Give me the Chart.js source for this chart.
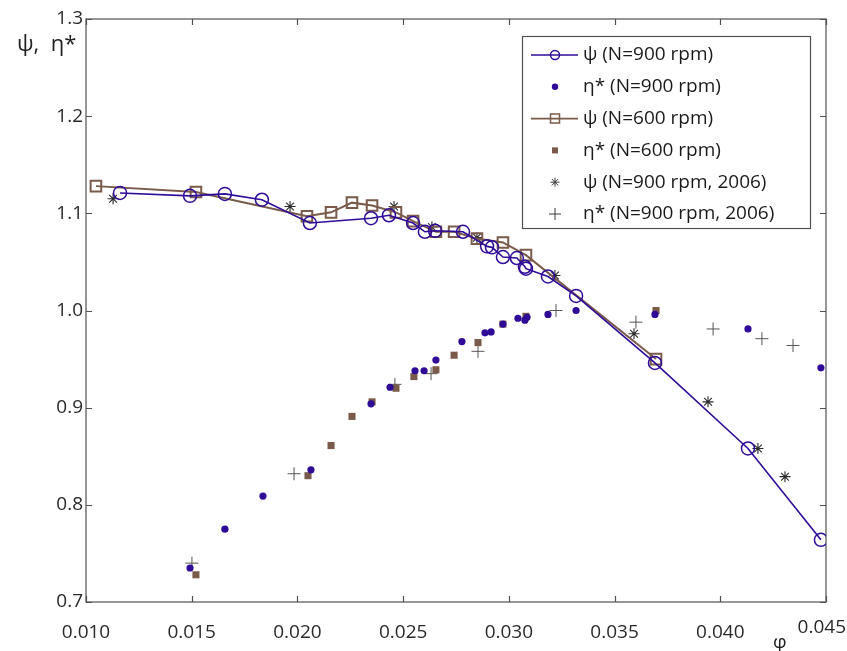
<!DOCTYPE html>
<html>
<head>
<meta charset="utf-8">
<script src="https://cdn.jsdelivr.net/npm/chart.js@4"></script>
<style>
  body { margin: 0; background: #fff; }
  #wrap { width: 847px; height: 651px; }
</style>
</head>
<body>
<div id="wrap"><canvas id="fanChart" width="847" height="651"></canvas></div>
<script>
// flow coefficient (phi) and head / efficiency values per series
const phi900 = [0.01161, 0.01492, 0.01657, 0.01832, 0.02059, 0.02348, 0.02433, 0.02547, 0.02603, 0.02651,
                0.02783, 0.02897, 0.02920, 0.02972, 0.03038, 0.03076, 0.03081, 0.03185, 0.03318, 0.03691,
                0.04131, 0.04476];
const psi900 = [1.121, 1.118, 1.120, 1.114, 1.090, 1.095, 1.098, 1.090, 1.081, 1.082,
                1.081, 1.066, 1.065, 1.055, 1.054, 1.045, 1.043, 1.035, 1.015, 0.946,
                0.858, 0.764];

const phiEta900 = [0.01492, 0.01657, 0.01837, 0.02064, 0.02348, 0.02438, 0.02556, 0.02599, 0.02655, 0.02778,
                   0.02887, 0.02916, 0.02972, 0.03043, 0.03076, 0.03086, 0.03185, 0.03318, 0.03691, 0.04131,
                   0.04476];
const eta900 = [0.735, 0.775, 0.809, 0.836, 0.904, 0.921, 0.938, 0.938, 0.949, 0.968,
                0.977, 0.978, 0.986, 0.992, 0.990, 0.993, 0.996, 1.000, 0.996, 0.981,
                0.941];

const phi600 = [0.01047, 0.01520, 0.02045, 0.02159, 0.02258, 0.02353, 0.02466, 0.02547, 0.02655, 0.02741,
                0.02849, 0.02972, 0.03081, 0.03696];
const psi600 = [1.128, 1.122, 1.097, 1.101, 1.111, 1.108, 1.101, 1.092, 1.081, 1.081,
                1.074, 1.070, 1.057, 0.950];

const phiEta600 = [0.01520, 0.02050, 0.02159, 0.02258, 0.02353, 0.02466, 0.02551, 0.02655, 0.02741, 0.02854,
                   0.02972, 0.03081, 0.03696];
const eta600 = [0.728, 0.830, 0.861, 0.891, 0.906, 0.920, 0.932, 0.939, 0.954, 0.967,
                0.986, 0.994, 1.000];

const phiPsi2006 = [0.01128, 0.01965, 0.02457, 0.02636, 0.02849, 0.03218, 0.03592, 0.03942, 0.04178, 0.04306];
const psi2006 = [1.115, 1.107, 1.107, 1.086, 1.075, 1.036, 0.976, 0.906, 0.858, 0.829];

const phiEta2006 = [0.01501, 0.01984, 0.02461, 0.02632, 0.02854, 0.03223, 0.03601, 0.03966, 0.04197, 0.04344];
const eta2006 = [0.740, 0.832, 0.924, 0.935, 0.958, 1.000, 0.988, 0.981, 0.971, 0.964];

const xTicks = { min: 0.010, max: 0.045, step: 0.005 };
const yTicks = { min: 0.7, max: 1.3, step: 0.1 };

const legendLabels = ['ψ (N=900 rpm)', 'η* (N=900 rpm)', 'ψ (N=600 rpm)', 'η* (N=600 rpm)',
                      'ψ (N=900 rpm, 2006)', 'η* (N=900 rpm, 2006)'];

const BLUE = '#2f0c98';
const BROWN = '#7a5a4b';
const GREY = '#3a3a3a';
const FONT = '"Open Sans", "Noto Sans", sans-serif';

const pts = (xs, ys) => xs.map((x, i) => ({ x: x, y: ys[i] }));

// MATLAB-like box with inward tick marks
const boxFrame = {
  id: 'boxFrame',
  beforeDatasetsDraw(chart) {
    const { ctx, chartArea: a, scales: { x, y } } = chart;
    ctx.save();
    ctx.strokeStyle = '#505050';
    ctx.lineWidth = 1.2;
    ctx.strokeRect(a.left, a.top, a.right - a.left, a.bottom - a.top);
    ctx.beginPath();
    x.ticks.forEach(t => {
      const px = Math.round(x.getPixelForValue(t.value)) + 0.5;
      ctx.moveTo(px, a.bottom); ctx.lineTo(px, a.bottom - 6);
      ctx.moveTo(px, a.top); ctx.lineTo(px, a.top + 6);
    });
    y.ticks.forEach(t => {
      const py = Math.round(y.getPixelForValue(t.value)) + 0.5;
      ctx.moveTo(a.left, py); ctx.lineTo(a.left + 6, py);
      ctx.moveTo(a.right, py); ctx.lineTo(a.right - 6, py);
    });
    ctx.stroke();
    ctx.restore();
  },
  afterDraw(chart) {
    const { ctx, chartArea: a, scales: { x } } = chart;
    ctx.save();
    ctx.fillStyle = '#222';
    ctx.textBaseline = 'middle';
    ctx.font = '19px ' + FONT;
    // last x tick label sits up and to the left so it stays on the canvas
    const last = x.ticks[x.ticks.length - 1];
    ctx.fillStyle = '#2a2a2a';
    ctx.textAlign = 'right';
    ctx.fillText(last.value.toFixed(3), x.getPixelForValue(last.value) + 20, 628);
    ctx.fillStyle = '#222';
    ctx.textAlign = 'left';
    ctx.fillText('φ', a.right - 53, 643);
    ctx.font = '22px ' + FONT;
    ctx.fillText('ψ,  η*', 17, 45);
    ctx.restore();
  }
};

function drawMark(ctx, kind, x, y) {
  ctx.beginPath();
  if (kind === 'circle') {
    ctx.strokeStyle = BLUE; ctx.lineWidth = 1.5;
    ctx.arc(x, y, 4.5, 0, Math.PI * 2); ctx.stroke();
  } else if (kind === 'dot') {
    ctx.fillStyle = BLUE;
    ctx.arc(x, y, 3.2, 0, Math.PI * 2); ctx.fill();
  } else if (kind === 'square') {
    ctx.strokeStyle = BROWN; ctx.lineWidth = 1.5;
    ctx.rect(x - 4.5, y - 4.5, 9, 9); ctx.stroke();
  } else if (kind === 'smallSquare') {
    ctx.fillStyle = BROWN;
    ctx.fillRect(x - 3, y - 3, 6, 6);
  } else if (kind === 'star') {
    ctx.strokeStyle = GREY; ctx.lineWidth = 1;
    const r = 4.5, d = r * Math.SQRT1_2;
    ctx.moveTo(x - r, y); ctx.lineTo(x + r, y);
    ctx.moveTo(x, y - r); ctx.lineTo(x, y + r);
    ctx.moveTo(x - d, y - d); ctx.lineTo(x + d, y + d);
    ctx.moveTo(x - d, y + d); ctx.lineTo(x + d, y - d);
    ctx.stroke();
  } else if (kind === 'plus') {
    ctx.strokeStyle = GREY; ctx.lineWidth = 1;
    ctx.moveTo(x - 6, y); ctx.lineTo(x + 6, y);
    ctx.moveTo(x, y - 6); ctx.lineTo(x, y + 6);
    ctx.stroke();
  }
}

// legend box in the upper right corner of the plot
const boxLegend = {
  id: 'boxLegend',
  afterDraw(chart) {
    const { ctx } = chart;
    const left = 522, top = 36, w = 288, h = 192;
    const rows = [
      { line: BLUE, mark: 'circle' }, { mark: 'dot' },
      { line: BROWN, mark: 'square' }, { mark: 'smallSquare' },
      { mark: 'star' }, { mark: 'plus' }
    ];
    ctx.save();
    ctx.fillStyle = '#fff';
    ctx.fillRect(left, top, w, h);
    ctx.strokeStyle = '#505050';
    ctx.lineWidth = 1.2;
    ctx.strokeRect(left + 0.5, top + 0.5, w, h);
    ctx.font = '19px ' + FONT;
    ctx.textBaseline = 'middle';
    rows.forEach((r, i) => {
      const cy = top + 19 + i * 31.8;
      if (r.line) {
        ctx.beginPath();
        ctx.strokeStyle = r.line; ctx.lineWidth = 1.6;
        ctx.moveTo(531, cy); ctx.lineTo(578, cy); ctx.stroke();
      }
      drawMark(ctx, r.mark, 555, cy);
      ctx.fillStyle = '#1a1a1a';
      ctx.fillText(legendLabels[i], 583, cy);
    });
    ctx.restore();
  }
};

const ctx = document.getElementById('fanChart').getContext('2d');
const fanChart = new Chart(ctx, {
  type: 'scatter',
  data: {
    datasets: [
      {
        label: legendLabels[0],
        data: pts(phi900, psi900),
        showLine: true,
        borderColor: BLUE,
        borderWidth: 1.6,
        pointStyle: 'circle',
        pointRadius: 6.5,
        pointBorderWidth: 1.5,
        pointBorderColor: BLUE,
        pointBackgroundColor: 'rgba(0,0,0,0)'
      },
      {
        label: legendLabels[1],
        data: pts(phiEta900, eta900),
        pointStyle: 'circle',
        pointRadius: 3.6,
        pointBorderWidth: 0,
        pointBackgroundColor: BLUE
      },
      {
        label: legendLabels[2],
        data: pts(phi600, psi600),
        showLine: true,
        borderColor: BROWN,
        borderWidth: 2,
        pointStyle: 'rect',
        pointRadius: 7.5,
        pointBorderWidth: 2,
        pointBorderColor: BROWN,
        pointBackgroundColor: 'rgba(0,0,0,0)'
      },
      {
        label: legendLabels[3],
        data: pts(phiEta600, eta600),
        pointStyle: 'rect',
        pointRadius: 5,
        pointBorderWidth: 0,
        pointBackgroundColor: BROWN
      },
      {
        label: legendLabels[4],
        data: pts(phiPsi2006, psi2006),
        pointStyle: 'star',
        pointRadius: 5.5,
        pointBorderWidth: 1.1,
        pointBorderColor: '#2a2a2a'
      },
      {
        label: legendLabels[5],
        data: pts(phiEta2006, eta2006),
        pointStyle: 'cross',
        pointRadius: 6.5,
        pointBorderWidth: 1,
        pointBorderColor: '#555'
      }
    ]
  },
  options: {
    responsive: false,
    animation: false,
    events: [],
    layout: { padding: { top: 19, right: 21, left: 0, bottom: 0 } },
    plugins: {
      legend: { display: false },
      tooltip: { enabled: false }
    },
    scales: {
      x: {
        type: 'linear',
        min: xTicks.min,
        max: xTicks.max,
        border: { display: false },
        grid: { display: false, drawTicks: false },
        ticks: {
          stepSize: xTicks.step,
          padding: 19,
          color: '#2a2a2a',
          font: { family: FONT, size: 19 },
          maxRotation: 0,
          // the last label is placed by boxFrame
          callback: v => (v >= xTicks.max - 1e-9 ? '' : v.toFixed(3))
        },
        afterFit: s => { s.height = 49; s.paddingLeft = 0; s.paddingRight = 0; }
      },
      y: {
        type: 'linear',
        min: yTicks.min,
        max: yTicks.max,
        border: { display: false },
        grid: { display: false, drawTicks: false },
        ticks: {
          stepSize: yTicks.step,
          padding: 3,
          color: '#2a2a2a',
          font: { family: FONT, size: 19 },
          callback: v => v.toFixed(1)
        },
        afterFit: s => { s.width = 86; s.paddingTop = 0; s.paddingBottom = 0; }
      }
    }
  },
  plugins: [boxFrame, boxLegend]
});
</script>
</body>
</html>
